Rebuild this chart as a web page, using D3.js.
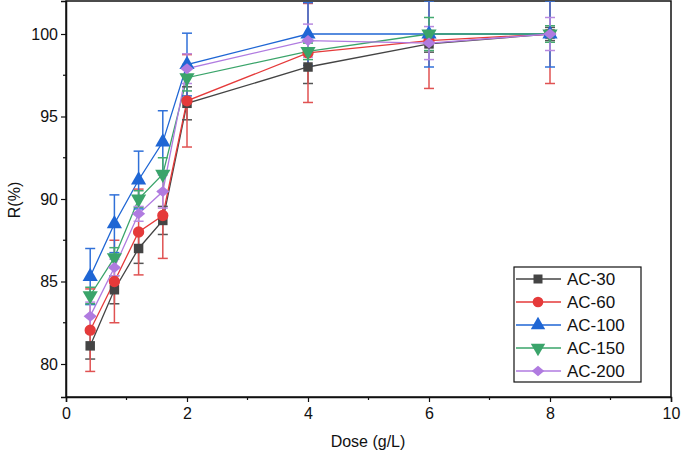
<!DOCTYPE html>
<html><head><meta charset="utf-8">
<script src="https://cdn.jsdelivr.net/npm/d3@7"></script>
<style>body{margin:0;background:#fff}svg{display:block;font-family:"Liberation Sans",Arial,sans-serif}</style>
</head><body><svg id="c" width="685" height="455"></svg>
<script>
const doses = [0.4, 0.8, 1.2, 1.6, 2, 4, 6, 8];
const seriesNames = ["AC-30", "AC-60", "AC-100", "AC-150", "AC-200"];
const ac30 = [81.1, 84.5, 87.0, 88.7, 95.8, 98.0, 99.4, 100];
const ac60 = [82.05, 85.0, 88.0, 89.0, 95.95, 98.85, 99.6, 100];
const ac100 = [85.3, 88.5, 91.15, 93.45, 98.15, 100, 100, 100];
const ac150 = [84.15, 86.45, 90.0, 91.5, 97.35, 98.95, 100, 100];
const ac200 = [82.9, 85.85, 89.1, 90.45, 97.9, 99.6, 99.45, 100];
const err30 = [0.8, 0.85, 0.9, 0.85, 1.0, 1.0, 0.5, 0.4];
const err60 = [2.5, 2.5, 2.6, 2.6, 2.8, 3.0, 2.9, 3.0];
const err100 = [1.7, 1.75, 1.75, 1.9, 1.9, 1.9, 2.0, 2.0];
const err150 = [0.5, 0.6, 0.5, 1.0, 0.8, 0.5, 1.0, 0.5];
const err200 = [0.85, 0.5, 0.45, 1.0, 0.9, 1.0, 1.0, 1.0];
const xTicks = [0, 2, 4, 6, 8, 10];
const yTicks = [80, 85, 90, 95, 100];

const values = [ac30, ac60, ac100, ac150, ac200];
const errs = [err30, err60, err100, err150, err200];
const colors = ["#444444", "#e53a3a", "#1f66d4", "#3aa46a", "#b07be0"];
const errColors = ["#555555", "#e05252", "#3070d8", "#44aa70", "#b88ae0"];
const symbols = [d3.symbolSquare, d3.symbolCircle, d3.symbolTriangle, d3.symbolTriangle, d3.symbolSquare];
const symSizes = [90, 100, 100, 100, 60];
const rotations = [0, 0, 0, 180, 45];
const scaleX = [1, 1, 1, 1, 1.2];

const svg = d3.select("#c");
const x = d3.scaleLinear().domain([0, 10]).range([66, 671]);
const y = d3.scaleLinear().domain([78, 102]).range([397, 1]);

svg.append("rect").attr("x", 66).attr("y", 1).attr("width", 605).attr("height", 396)
  .attr("fill", "none").attr("stroke", "#111").attr("stroke-width", 1.5);

const xAxis = d3.axisBottom(x).tickValues(xTicks).tickSize(5).tickPadding(6).tickFormat(d3.format("d"));
const gx = svg.append("g").attr("transform", "translate(0,397)").call(xAxis);
gx.append("g").selectAll("line").data([1, 3, 5, 7, 9]).join("line")
  .attr("x1", d => x(d)).attr("x2", d => x(d)).attr("y1", 0).attr("y2", 3).attr("stroke", "#111").attr("stroke-width", 1.2);
const yAxis = d3.axisLeft(y).tickValues(yTicks).tickSize(5).tickPadding(3);
const gy = svg.append("g").attr("transform", "translate(66,0)").call(yAxis);
gy.append("g").selectAll("line").data([82.5, 87.5, 92.5, 97.5]).join("line")
  .attr("x1", 0).attr("x2", -3).attr("y1", d => y(d)).attr("y2", d => y(d)).attr("stroke", "#111").attr("stroke-width", 1.2);
[gx, gy].forEach(g => {
  g.select(".domain").attr("stroke", "#111").attr("stroke-width", 1.5);
  g.selectAll(".tick line").attr("stroke", "#111").attr("stroke-width", 1.2);
  g.selectAll("text").attr("font-size", 16).attr("fill", "#111").attr("font-family", "Liberation Sans, Arial, sans-serif");
});

svg.append("text").attr("x", 368).attr("y", 447).attr("text-anchor", "middle")
  .attr("font-size", 16).attr("fill", "#111").text("Dose (g/L)");
svg.append("text").attr("transform", "translate(20,200) rotate(-90)").attr("text-anchor", "middle")
  .attr("font-size", 16).attr("fill", "#111").text("R(%)");

svg.append("defs").append("clipPath").attr("id", "clip")
  .append("rect").attr("x", 66).attr("y", 1).attr("width", 605).attr("height", 396);
const data = svg.append("g").attr("clip-path", "url(#clip)");

const line = d3.line().x(d => x(d[0])).y(d => y(d[1]));
values.forEach((vals, i) => {
  data.append("path").datum(doses.map((d, j) => [d, vals[j]]))
    .attr("d", line).attr("fill", "none").attr("stroke", colors[i]).attr("stroke-width", 1.3);
});
values.forEach((vals, i) => {
  const g = data.append("g").attr("stroke", errColors[i]).attr("stroke-width", 1.5);
  doses.forEach((d, j) => {
    const cx = x(d), lo = y(vals[j] - errs[i][j]), hi = y(vals[j] + errs[i][j]);
    g.append("line").attr("x1", cx).attr("x2", cx).attr("y1", lo).attr("y2", hi);
    g.append("line").attr("x1", cx - 5).attr("x2", cx + 5).attr("y1", lo).attr("y2", lo);
    g.append("line").attr("x1", cx - 5).attr("x2", cx + 5).attr("y1", hi).attr("y2", hi);
  });
});
values.forEach((vals, i) => {
  data.append("g").selectAll("path").data(doses.map((d, j) => [d, vals[j]])).join("path")
    .attr("d", d3.symbol().type(symbols[i]).size(symSizes[i]))
    .attr("transform", d => `translate(${x(d[0])},${y(d[1])}) scale(${scaleX[i]},1) rotate(${rotations[i]})`)
    .attr("fill", colors[i]);
});

const lg = svg.append("g");
lg.append("rect").attr("x", 514).attr("y", 267).attr("width", 127).attr("height", 115)
  .attr("fill", "#fff").attr("stroke", "#111").attr("stroke-width", 1.2);
seriesNames.forEach((name, i) => {
  const ly = 279 + i * 23;
  lg.append("line").attr("x1", 516).attr("x2", 561).attr("y1", ly).attr("y2", ly)
    .attr("stroke", colors[i]).attr("stroke-width", 1.3);
  lg.append("path").attr("d", d3.symbol().type(symbols[i]).size(symSizes[i] * 0.9))
    .attr("transform", `translate(538,${ly}) scale(${scaleX[i]},1) rotate(${rotations[i]})`).attr("fill", colors[i]);
  lg.append("text").attr("x", 567).attr("y", ly + 6).attr("font-size", 17).attr("fill", "#111").text(name);
});
</script></body></html>
